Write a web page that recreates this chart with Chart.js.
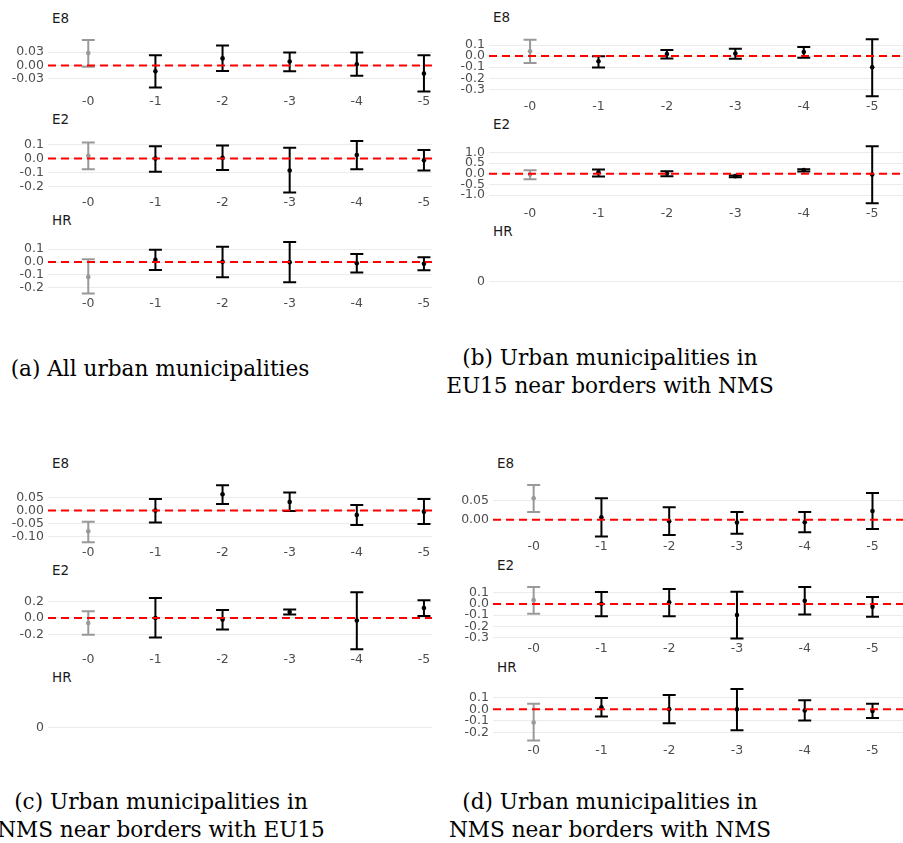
<!DOCTYPE html>
<html>
<head>
<meta charset="utf-8">
<script src="https://cdn.jsdelivr.net/npm/chart.js@4.4.1/dist/chart.umd.min.js"></script>
<style>
  body { margin: 0; background: #fff; }
  #fig { position: relative; width: 903px; height: 843px; overflow: hidden; }
  #fig canvas { position: absolute; }
  .ttl { position: absolute; font-family: "DejaVu Sans", sans-serif; font-size: 13.5px; line-height: 12px; color: #1a1a1a; white-space: nowrap; }
  .cap { position: absolute; width: 400px; font-family: "DejaVu Serif", serif; font-size: 21.6px; line-height: 28.3px; color: #000; text-align: center; white-space: nowrap; }
</style>
</head>
<body>
<div id="fig"></div>
<script>
// lead/lag labels on the x axis
const categories = ["-0", "-1", "-2", "-3", "-4", "-5"];

// (a) all urban municipalities
const aE8Est = [0.028, -0.013, 0.016, 0.009, 0.003, -0.018];
const aE8Lo  = [-0.003, -0.049, -0.012, -0.013, -0.023, -0.058];
const aE8Hi  = [0.057, 0.023, 0.045, 0.029, 0.029, 0.023];
const aE2Est = [0.020, 0.000, 0.006, -0.084, 0.025, -0.012];
const aE2Lo  = [-0.076, -0.092, -0.080, -0.239, -0.076, -0.084];
const aE2Hi  = [0.114, 0.088, 0.092, 0.076, 0.124, 0.061];
const aHREst = [-0.115, 0.017, 0.002, -0.002, -0.009, -0.013];
const aHRLo  = [-0.243, -0.062, -0.117, -0.157, -0.081, -0.064];
const aHRHi  = [0.021, 0.096, 0.119, 0.155, 0.062, 0.038];

// (b) EU15 near borders with NMS
const bE8Est = [0.044, -0.047, 0.019, 0.024, 0.037, -0.100];
const bE8Lo  = [-0.062, -0.103, -0.022, -0.024, -0.016, -0.361];
const bE8Hi  = [0.148, -0.001, 0.054, 0.067, 0.082, 0.151];
const bE2Est = [-0.03, 0.07, 0.01, -0.11, 0.17, -0.03];
const bE2Lo  = [-0.25, -0.13, -0.11, -0.16, 0.105, -1.37];
const bE2Hi  = [0.17, 0.20, 0.12, -0.08, 0.21, 1.28];

// (c) NMS near borders with EU15
const cE8Est = [-0.079, 0.000, 0.062, 0.033, -0.017, -0.004];
const cE8Lo  = [-0.120, -0.045, 0.025, -0.002, -0.055, -0.051];
const cE8Hi  = [-0.042, 0.044, 0.096, 0.069, 0.021, 0.044];
const cE2Est = [-0.061, 0.000, -0.020, 0.071, -0.031, 0.119];
const cE2Lo  = [-0.203, -0.237, -0.139, 0.041, -0.376, 0.024];
const cE2Hi  = [0.081, 0.241, 0.095, 0.102, 0.308, 0.214];

// (d) NMS near borders with NMS
const dE8Est = [0.057, 0.0066, -0.0037, -0.0074, -0.0066, 0.0235];
const dE8Lo  = [0.021, -0.044, -0.040, -0.037, -0.033, -0.024];
const dE8Hi  = [0.092, 0.057, 0.033, 0.021, 0.021, 0.071];
const dE2Est = [0.035, 0.002, 0.015, -0.099, 0.030, -0.025];
const dE2Lo  = [-0.087, -0.109, -0.109, -0.308, -0.094, -0.114];
const dE2Hi  = [0.152, 0.107, 0.134, 0.109, 0.152, 0.062];
const dHREst = [-0.114, 0.019, 0.002, 0.000, -0.010, -0.015];
const dHRLo  = [-0.271, -0.063, -0.121, -0.182, -0.097, -0.075];
const dHRHi  = [0.048, 0.099, 0.126, 0.177, 0.080, 0.048];

// y tick values
const aE8Ticks = [-0.03, 0, 0.03];
const aE2Ticks = [-0.2, -0.1, 0, 0.1];
const aHRTicks = [-0.2, -0.1, 0, 0.1];
const bE8Ticks = [-0.3, -0.2, -0.1, 0, 0.1];
const bE2Ticks = [-1, -0.5, 0, 0.5, 1];
const cE8Ticks = [-0.1, -0.05, 0, 0.05];
const cE2Ticks = [-0.2, 0, 0.2];
const dE8Ticks = [0, 0.05];
const dE2Ticks = [-0.3, -0.2, -0.1, 0, 0.1];
const dHRTicks = [-0.2, -0.1, 0, 0.1];
const emptyTicks = [0];

const captions = [
  "(a) All urban municipalities",
  "(b) Urban municipalities in<br>EU15 near borders with NMS",
  "(c) Urban municipalities in<br>NMS near borders with EU15",
  "(d) Urban municipalities in<br>NMS near borders with NMS"
];

const GREY = "#999999";
const BLACK = "#000000";
const XAXIS_H = 16;

Chart.defaults.font.family = '"DejaVu Sans", sans-serif';
Chart.defaults.font.size = 12.5;
Chart.defaults.color = "#4D4D4D";

const fig = document.getElementById("fig");

// panel frames: canvas left, y-axis width, canvas width, x max, panel height, panel tops
const panels = [
  { left: 0,   yw: 48, width: 432, xMax: 5.12, h: 68, tops: [26, 127, 228] },
  { left: 450, yw: 39, width: 453, xMax: 5.45, h: 74, tops: [25, 132, 239] },
  { left: 0,   yw: 48, width: 432, xMax: 5.12, h: 74, tops: [471, 578, 685] },
  { left: 450, yw: 43, width: 453, xMax: 5.45, h: 68, tops: [471, 573, 675] }
];

const capPos = [
  { cx: 160, top: 355.3 },
  { cx: 610, top: 343.6 },
  { cx: 161, top: 788.1 },
  { cx: 610, top: 788.1 }
];

const drawSub = (p, row, name, est, lo, hi, ticks, dec) => {
  const top = p.tops[row];

  const label = document.createElement("div");
  label.className = "ttl";
  label.textContent = name;
  label.style.left = (p.left + p.yw + 4) + "px";
  label.style.top = (top - 14) + "px";
  fig.appendChild(label);

  const canvas = document.createElement("canvas");
  canvas.width = p.width;
  canvas.height = p.h + XAXIS_H;
  canvas.style.left = p.left + "px";
  canvas.style.top = top + "px";
  fig.appendChild(canvas);

  let yMin = -0.05, yMax = 0.05;
  const datasets = [];
  if (est) {
    const a = Math.min(...lo), b = Math.max(...hi);
    const pad = (b - a) * 0.05;
    yMin = a - pad;
    yMax = b + pad;
    const colorOf = (i) => (i === 0 ? GREY : BLACK);
    const stems = [], caps = [], capColors = [];
    est.forEach((_, i) => {
      stems.push({ x: i, y: lo[i] }, { x: i, y: hi[i] }, { x: i, y: null });
      caps.push({ x: i, y: lo[i] }, { x: i, y: hi[i] });
      capColors.push(colorOf(i), colorOf(i));
    });

    datasets.push({
      type: "line",
      data: [{ x: -0.6, y: 0 }, { x: p.xMax, y: 0 }],
      borderColor: "#FF0000",
      borderWidth: 2,
      borderDash: [8, 5],
      pointRadius: 0,
      order: 0
    });
    datasets.push({
      type: "scatter",
      data: est.map((v, i) => ({ x: i, y: v })),
      pointRadius: 2.3,
      pointBorderWidth: 0,
      pointBackgroundColor: est.map((_, i) => colorOf(i)),
      order: 1
    });
    datasets.push({
      type: "scatter",
      data: caps,
      pointStyle: "line",
      pointRadius: 6.5,
      pointBorderWidth: 2,
      pointBorderColor: capColors,
      order: 2
    });
    datasets.push({
      type: "line",
      data: stems,
      borderColor: BLACK,
      borderWidth: 2,
      pointRadius: 0,
      spanGaps: false,
      segment: { borderColor: (c) => (c.p0DataIndex < 3 ? GREY : BLACK) },
      order: 3
    });
  }

  new Chart(canvas, {
    type: "scatter",
    data: { datasets },
    options: {
      responsive: false,
      animation: false,
      devicePixelRatio: 1,
      layout: { padding: 0, autoPadding: false },
      plugins: { legend: { display: false }, tooltip: { enabled: false } },
      scales: {
        x: {
          type: "linear",
          min: -0.6,
          max: p.xMax,
          grid: { display: false, drawTicks: false },
          border: { display: false },
          afterBuildTicks: (s) => { s.ticks = categories.map((_, i) => ({ value: i })); },
          afterFit: (s) => { s.height = XAXIS_H; },
          ticks: {
            display: !!est,
            padding: 0,
            maxRotation: 0,
            autoSkip: false,
            callback: (v) => categories[v]
          }
        },
        y: {
          type: "linear",
          min: yMin,
          max: yMax,
          grid: { color: "#EBEBEB", lineWidth: 1, drawTicks: false },
          border: { display: false },
          afterBuildTicks: (s) => { s.ticks = ticks.map((v) => ({ value: v })); },
          afterFit: (s) => { s.width = p.yw; },
          ticks: {
            padding: 4,
            autoSkip: false,
            callback: (v) => v.toFixed(dec)
          }
        }
      }
    }
  });
};

drawSub(panels[0], 0, "E8", aE8Est, aE8Lo, aE8Hi, aE8Ticks, 2);
drawSub(panels[0], 1, "E2", aE2Est, aE2Lo, aE2Hi, aE2Ticks, 1);
drawSub(panels[0], 2, "HR", aHREst, aHRLo, aHRHi, aHRTicks, 1);

drawSub(panels[1], 0, "E8", bE8Est, bE8Lo, bE8Hi, bE8Ticks, 1);
drawSub(panels[1], 1, "E2", bE2Est, bE2Lo, bE2Hi, bE2Ticks, 1);
drawSub(panels[1], 2, "HR", null, null, null, emptyTicks, 0);

drawSub(panels[2], 0, "E8", cE8Est, cE8Lo, cE8Hi, cE8Ticks, 2);
drawSub(panels[2], 1, "E2", cE2Est, cE2Lo, cE2Hi, cE2Ticks, 1);
drawSub(panels[2], 2, "HR", null, null, null, emptyTicks, 0);

drawSub(panels[3], 0, "E8", dE8Est, dE8Lo, dE8Hi, dE8Ticks, 2);
drawSub(panels[3], 1, "E2", dE2Est, dE2Lo, dE2Hi, dE2Ticks, 1);
drawSub(panels[3], 2, "HR", dHREst, dHRLo, dHRHi, dHRTicks, 1);

captions.forEach((text, i) => {
  const div = document.createElement("div");
  div.className = "cap";
  div.innerHTML = text;
  div.style.left = (capPos[i].cx - 200) + "px";
  div.style.top = capPos[i].top + "px";
  fig.appendChild(div);
});
</script>
</body>
</html>
